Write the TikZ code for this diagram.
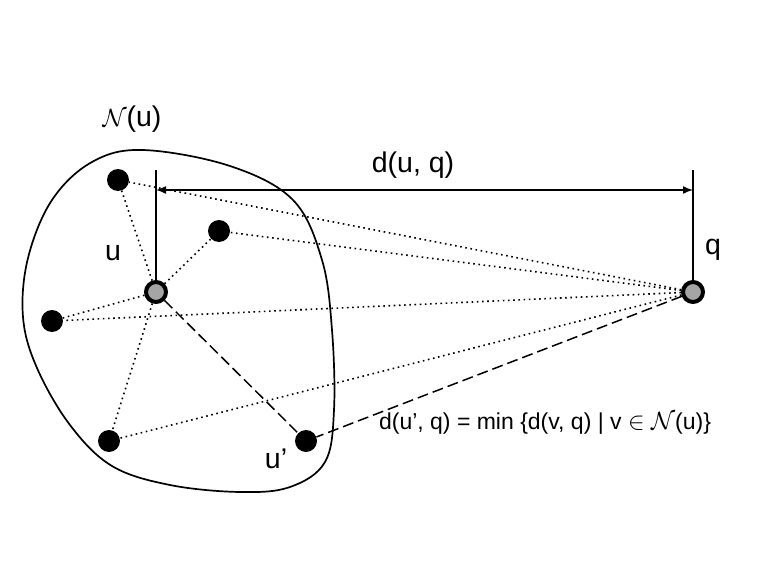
\documentclass[tikz,border=0pt]{standalone}
\usepackage{fontspec}
\setmainfont{Liberation Sans}
\usetikzlibrary{arrows.meta}
\begin{document}
\begin{tikzpicture}[x=1pt,y=-1pt,
  blackdot/.style={circle, fill=black, minimum size=22pt, inner sep=0pt},
  graydot/.style={circle, draw=black, line width=4pt, fill={rgb,255:red,165;green,165;blue,165}, minimum size=20pt, inner sep=0pt},
  lbl/.style={font=\fontsize{28.5}{32}\selectfont, inner sep=0pt},
  formula/.style={font=\fontsize{23}{26}\selectfont, inner sep=0pt},
  dotline/.style={dash pattern=on 1.6pt off 3.6pt, line width=1.6pt},
  dashline/.style={dash pattern=on 11pt off 5pt, line width=1.5pt},
  plain/.style={line width=1.5pt}]
\useasboundingbox (0,0) rectangle (763,567);
% neighbourhood blob
\draw[line width=1.7pt] plot[smooth cycle, tension=0.6] coordinates {
 (143,150) (230,166) (293,200) (322,260) (332,330) (334,410) (325,462)
 (290,487) (240,492) (170,485) (112,466) (70,425) (37,368) (23,317)
 (28,258) (52,200) (92,162)};
% nodes
\node[graydot] (u) at (156,292) {};
\node[graydot] (q) at (693,292) {};
\node[blackdot] (n1) at (118,180) {};
\node[blackdot] (n2) at (219,231) {};
\node[blackdot] (n3) at (52,321) {};
\node[blackdot] (n4) at (109,441) {};
\node[blackdot] (up) at (306,441) {};
% dotted links
\foreach \n in {n1,n2,n3,n4} {
  \draw[dotline] (u) -- (\n);
  \draw[dotline] (q) -- (\n);
}
\draw[dashline] (u) -- (up);
\draw[dashline] (q) -- (up);
% distance marker
\coordinate (ut) at (156,170);
\coordinate (qt) at (693,170);
\coordinate (al) at (156,190);
\coordinate (ar) at (693,190);
\draw[plain] (u) -- (ut);
\draw[plain] (q) -- (qt);
\draw[plain, {Latex[length=10pt,width=8pt]}-{Latex[length=10pt,width=8pt]}] (al) -- (ar);
% labels
\node[lbl] (ldq) at (413,165) {d(u, q)};
\node[lbl] (lu) at (113,253) {u};
\node[lbl] (lq) at (713,250) {q};
\node[lbl] (lup) at (276,459) {u’};
\node[lbl] (lN) at (132,119) {$\mathcal{N}$(u)};
\node[formula] (lf) at (545,423) {d(u’, q) = min \{d(v, q) | v $\in$ $\mathcal{N}$(u)\}};
\end{tikzpicture}
\end{document}
